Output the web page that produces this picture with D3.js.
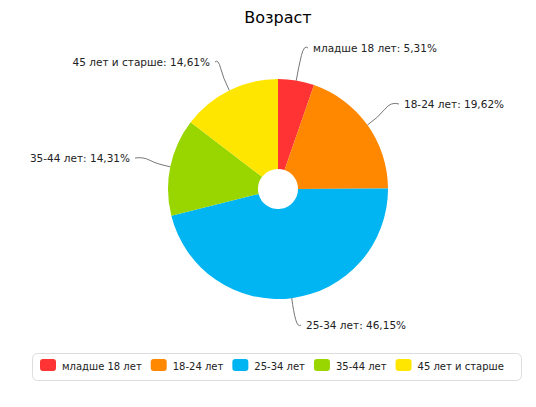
<!DOCTYPE html><html><head><meta charset="utf-8"><script src="https://cdn.jsdelivr.net/npm/d3@7"></script>
<style>body{margin:0;background:#fff}text{font-family:"DejaVu Sans",Verdana,sans-serif}</style></head><body>
<svg id="c" width="536" height="407"></svg>
<script>
const categories=["младше 18 лет","18-24 лет","25-34 лет","35-44 лет","45 лет и старше"];
const values=[5.31,19.62,46.15,14.31,14.61];
const colors=["#ff3333","#ff8800","#00b5f2","#99d600","#ffe600"];
const labelPos=[[313,52],[404,108],[306,329],[130,162],[210,66]];
const svg=d3.select("#c");
svg.append("text").attr("x",278).attr("y",23).attr("text-anchor","middle").attr("font-size",16).attr("fill","#000").text("Возраст");
const cx=278,cy=189,R=110;
const arcs=d3.pie().sort(null)(values);
const g=svg.append("g").attr("transform",`translate(${cx},${cy})`);
g.selectAll("path").data(arcs).join("path").attr("d",d3.arc().innerRadius(20).outerRadius(R)).attr("fill",(d,i)=>colors[i]);
arcs.forEach((d,i)=>{
  const a=(d.startAngle+d.endAngle)/2;
  const ex=cx+R*Math.sin(a), ey=cy-R*Math.cos(a);
  const [lx,ly]=labelPos[i]; const right=Math.sin(a)>=0;
  const tx=right?lx-5:lx+5, ty=ly-4;
  const mx=cx+(R+14)*Math.sin(a), my=cy-(R+14)*Math.cos(a);
  svg.append("path").attr("d",`M${ex},${ey}Q${mx},${my} ${mx+(tx-mx)*0.3},${my+(ty-my)*0.6}T${tx},${ty}`).attr("fill","none").attr("stroke","#777").attr("stroke-width",1);
  svg.append("text").attr("x",lx).attr("y",ly).attr("font-size",10.5).attr("fill","#222").attr("text-anchor",right?"start":"end").text(categories[i]+": "+String(values[i]).replace(".",",")+"%");
});
const lg=svg.append("g");
lg.append("rect").attr("x",32.5).attr("y",353.5).attr("width",489).attr("height",27).attr("rx",5).attr("fill","#fff").attr("stroke","#ddd");
let x=40;
categories.forEach((c,i)=>{
  lg.append("rect").attr("x",x).attr("y",359).attr("width",16).attr("height",12).attr("rx",3).attr("fill",colors[i]);
  const t=lg.append("text").attr("x",x+22).attr("y",370).attr("font-size",10).attr("fill","#222").text(c);
  x+=22+t.node().getComputedTextLength()+9;
});
</script></body></html>
